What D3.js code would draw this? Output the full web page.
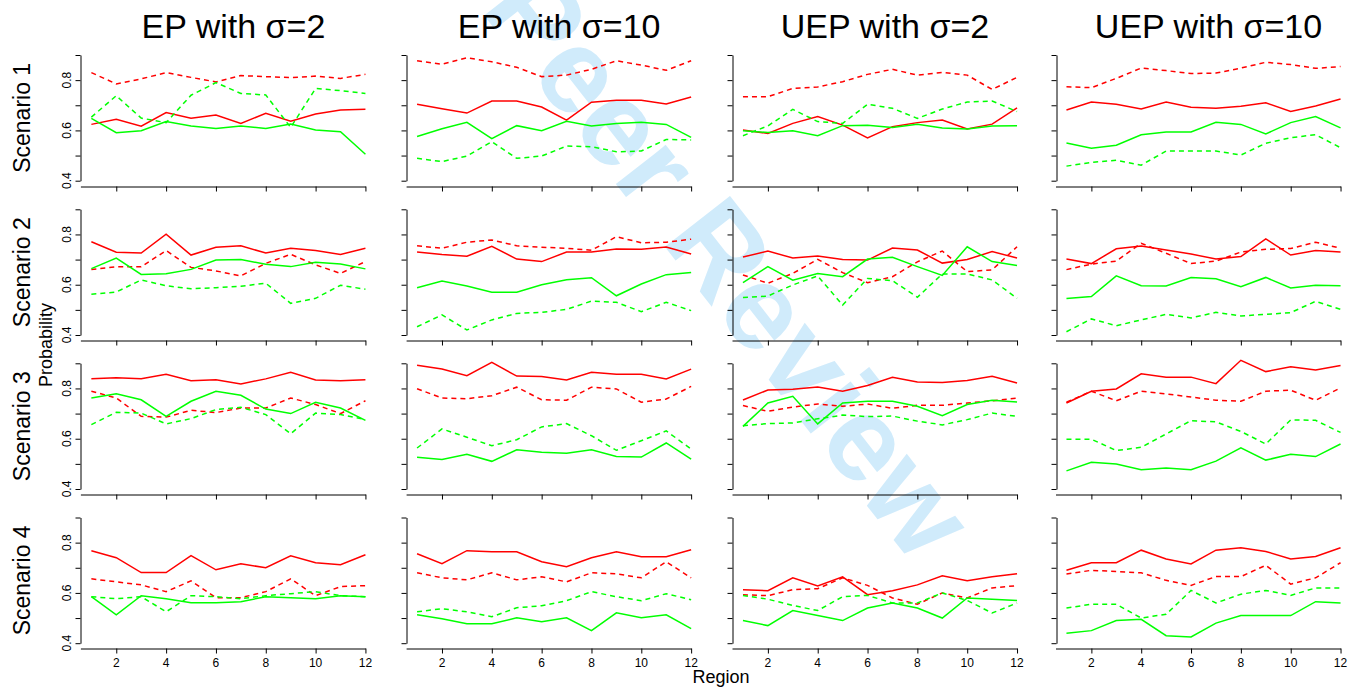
<!DOCTYPE html>
<html><head><meta charset="utf-8">
<script src="https://cdn.jsdelivr.net/npm/d3@7"></script>
<style>body{margin:0;background:#fff}svg{display:block}text{font-family:"Liberation Sans",Arial,sans-serif}</style>
</head><body>
<svg id="c" width="1370" height="688"></svg>
<script>
const columns = ["EP with σ=2", "EP with σ=10", "UEP with σ=2", "UEP with σ=10"];
const scenarios = ["Scenario 1", "Scenario 2", "Scenario 3", "Scenario 4"];
const regions = [1,2,3,4,5,6,7,8,9,10,11,12];
const xTicks = [2,4,6,8,10,12];
const yTicks = [0.4,0.5,0.6,0.7,0.8,0.9];
const yTickLabels = ["0.4","","0.6","","0.8",""];
const xLabel = "Region", yLabel = "Probability";

// panels in order: scenario 1 (4 columns), scenario 2, ...
const redSolid = [
 [0.624,0.644,0.617,0.671,0.648,0.661,0.628,0.668,0.637,0.665,0.681,0.684],
 [0.704,0.686,0.669,0.717,0.717,0.693,0.641,0.712,0.720,0.720,0.705,0.733],
 [0.602,0.588,0.628,0.655,0.621,0.570,0.615,0.631,0.641,0.606,0.625,0.690],
 [0.681,0.713,0.704,0.685,0.713,0.692,0.688,0.696,0.710,0.675,0.697,0.725],
 [0.771,0.729,0.726,0.801,0.718,0.749,0.755,0.726,0.745,0.736,0.720,0.745],
 [0.730,0.720,0.713,0.753,0.702,0.692,0.730,0.730,0.742,0.741,0.750,0.722],
 [0.710,0.734,0.706,0.714,0.700,0.698,0.746,0.738,0.686,0.700,0.732,0.706],
 [0.702,0.684,0.743,0.754,0.738,0.722,0.702,0.712,0.782,0.718,0.736,0.730],
 [0.839,0.843,0.839,0.856,0.831,0.835,0.818,0.838,0.864,0.834,0.831,0.835],
 [0.892,0.877,0.851,0.904,0.849,0.847,0.834,0.864,0.856,0.856,0.838,0.877],
 [0.754,0.794,0.797,0.806,0.789,0.812,0.844,0.826,0.824,0.832,0.848,0.822],
 [0.742,0.789,0.798,0.858,0.845,0.845,0.819,0.912,0.867,0.886,0.873,0.891],
 [0.768,0.740,0.681,0.681,0.748,0.692,0.716,0.700,0.748,0.720,0.712,0.752],
 [0.756,0.716,0.768,0.764,0.764,0.724,0.704,0.740,0.764,0.744,0.744,0.772],
 [0.613,0.609,0.660,0.628,0.664,0.593,0.609,0.632,0.668,0.648,0.664,0.676],
 [0.690,0.720,0.720,0.770,0.735,0.715,0.770,0.780,0.765,0.735,0.745,0.780]
];
const redDashed = [
 [0.830,0.785,0.805,0.830,0.811,0.793,0.818,0.814,0.810,0.816,0.807,0.823],
 [0.877,0.863,0.889,0.873,0.851,0.814,0.820,0.843,0.877,0.860,0.839,0.877],
 [0.734,0.734,0.767,0.773,0.794,0.823,0.843,0.820,0.831,0.820,0.763,0.811],
 [0.774,0.770,0.807,0.848,0.838,0.826,0.828,0.848,0.871,0.862,0.847,0.854],
 [0.661,0.671,0.671,0.736,0.669,0.655,0.635,0.685,0.721,0.679,0.645,0.692],
 [0.755,0.745,0.769,0.778,0.755,0.749,0.745,0.737,0.791,0.767,0.769,0.781],
 [0.639,0.606,0.645,0.701,0.648,0.608,0.632,0.691,0.734,0.652,0.659,0.751],
 [0.660,0.682,0.694,0.765,0.725,0.684,0.694,0.730,0.741,0.744,0.769,0.745],
 [0.789,0.762,0.689,0.686,0.713,0.704,0.722,0.722,0.762,0.736,0.700,0.751],
 [0.799,0.762,0.759,0.771,0.805,0.755,0.753,0.805,0.798,0.745,0.758,0.808],
 [0.732,0.709,0.726,0.738,0.729,0.738,0.721,0.733,0.733,0.742,0.751,0.762],
 [0.745,0.789,0.751,0.789,0.778,0.766,0.753,0.749,0.789,0.793,0.753,0.802],
 [0.656,0.644,0.632,0.605,0.648,0.581,0.581,0.605,0.656,0.589,0.625,0.629],
 [0.680,0.660,0.652,0.680,0.652,0.664,0.644,0.680,0.676,0.660,0.724,0.660],
 [0.593,0.589,0.613,0.617,0.660,0.630,0.580,0.555,0.600,0.580,0.620,0.629],
 [0.675,0.690,0.685,0.680,0.650,0.630,0.665,0.665,0.710,0.635,0.660,0.720]
];
const greenSolid = [
 [0.648,0.591,0.599,0.635,0.618,0.608,0.618,0.608,0.625,0.602,0.595,0.505],
 [0.576,0.607,0.632,0.567,0.619,0.599,0.636,0.618,0.628,0.632,0.624,0.572],
 [0.599,0.592,0.599,0.579,0.619,0.621,0.612,0.625,0.610,0.606,0.618,0.619],
 [0.550,0.529,0.541,0.583,0.594,0.594,0.632,0.624,0.586,0.631,0.655,0.610],
 [0.664,0.706,0.641,0.644,0.661,0.698,0.700,0.681,0.672,0.689,0.682,0.663],
 [0.588,0.615,0.595,0.570,0.570,0.600,0.620,0.628,0.556,0.603,0.640,0.649],
 [0.608,0.672,0.618,0.645,0.632,0.702,0.709,0.672,0.637,0.751,0.692,0.676],
 [0.545,0.553,0.635,0.596,0.595,0.629,0.624,0.592,0.629,0.587,0.598,0.596],
 [0.762,0.779,0.755,0.689,0.749,0.789,0.773,0.718,0.700,0.745,0.722,0.673],
 [0.526,0.517,0.538,0.510,0.556,0.546,0.542,0.556,0.529,0.527,0.583,0.519],
 [0.649,0.742,0.769,0.659,0.742,0.749,0.749,0.729,0.692,0.736,0.753,0.746],
 [0.472,0.506,0.499,0.477,0.484,0.477,0.511,0.564,0.515,0.538,0.529,0.579],
 [0.585,0.513,0.589,0.577,0.561,0.561,0.565,0.585,0.581,0.577,0.589,0.585],
 [0.513,0.497,0.477,0.477,0.501,0.485,0.501,0.450,0.521,0.501,0.513,0.458],
 [0.490,0.470,0.530,0.510,0.490,0.540,0.560,0.540,0.500,0.580,0.575,0.570],
 [0.440,0.450,0.490,0.495,0.430,0.425,0.480,0.510,0.510,0.510,0.565,0.560]
];
const greenDashed = [
 [0.653,0.738,0.649,0.631,0.740,0.790,0.747,0.741,0.612,0.767,0.758,0.747],
 [0.489,0.476,0.498,0.555,0.489,0.498,0.538,0.535,0.515,0.518,0.564,0.562],
 [0.579,0.618,0.684,0.635,0.628,0.704,0.688,0.648,0.685,0.713,0.717,0.675],
 [0.458,0.473,0.481,0.462,0.518,0.518,0.518,0.502,0.549,0.571,0.583,0.531],
 [0.562,0.571,0.619,0.596,0.584,0.588,0.594,0.606,0.526,0.546,0.598,0.582],
 [0.433,0.480,0.420,0.460,0.486,0.490,0.502,0.535,0.530,0.493,0.530,0.497],
 [0.549,0.555,0.599,0.635,0.519,0.625,0.616,0.550,0.643,0.643,0.619,0.546],
 [0.413,0.464,0.437,0.460,0.482,0.468,0.490,0.476,0.482,0.489,0.534,0.502],
 [0.656,0.705,0.702,0.659,0.680,0.716,0.725,0.696,0.620,0.702,0.696,0.676],
 [0.563,0.639,0.606,0.572,0.596,0.647,0.660,0.612,0.554,0.592,0.631,0.559],
 [0.652,0.660,0.663,0.679,0.694,0.688,0.690,0.670,0.655,0.676,0.702,0.689],
 [0.598,0.598,0.553,0.566,0.619,0.672,0.667,0.629,0.579,0.675,0.673,0.625],
 [0.585,0.577,0.585,0.525,0.589,0.585,0.577,0.589,0.597,0.605,0.589,0.585],
 [0.525,0.537,0.525,0.505,0.541,0.549,0.569,0.605,0.585,0.569,0.597,0.573],
 [0.590,0.575,0.550,0.530,0.585,0.590,0.560,0.560,0.600,0.570,0.520,0.560],
 [0.540,0.555,0.555,0.500,0.515,0.610,0.560,0.595,0.610,0.590,0.620,0.620]
];

const svg = d3.select("#c");
// watermark
svg.append("text").attr("transform","translate(730,262) rotate(52)")
  .attr("text-anchor","middle").attr("dominant-baseline","central")
  .attr("font-size",120).attr("font-weight","bold").attr("fill","#d0ebfb")
  .text("Peer Review");

const colLeft = [80.4, 406.1, 732, 1055.5];
const panelW = 296;
const rowTop = [55, 209.3, 363.3, 517.5];
const panelH = 125.7;

const series = [
  {data: redSolid, color: "#ff0000", dash: null},
  {data: redDashed, color: "#ff0000", dash: "5,4"},
  {data: greenSolid, color: "#00ff00", dash: null},
  {data: greenDashed, color: "#00ff00", dash: "5,4"}
];

for (let r = 0; r < 4; r++) {
  for (let c = 0; c < 4; c++) {
    const idx = r*4 + c;
    const x = d3.scaleLinear().domain([0.56, 12.44]).range([colLeft[c], colLeft[c] + panelW]);
    const y = d3.scaleLinear().domain([0.4, 0.9]).range([rowTop[r] + panelH, rowTop[r]]);
    const g = svg.append("g");
    const ya = g.append("g").attr("transform", `translate(${Math.round(x(0.56))+0.5},0)`)
      .call(d3.axisLeft(y).tickValues(yTicks).tickFormat("").tickSize(5).tickSizeOuter(0));
    const xAxisScale = d3.scaleLinear().domain([0.56, 12]).range([x(0.56), x(12)]);
    const xa = g.append("g").attr("transform", `translate(0,${Math.round(y(0.38))+0.5})`)
      .call(d3.axisBottom(xAxisScale).tickValues(xTicks).tickFormat("").tickSize(5).tickSizeOuter(0));
    [ya, xa].forEach(a => { a.selectAll("path,line").attr("stroke","#000").attr("stroke-width",1); });
    if (c === 0) {
      yTicks.forEach((t, i) => {
        if (!yTickLabels[i]) return;
        g.append("text").attr("transform", `translate(${x(0.56)-9},${y(t)}) rotate(-90)`)
          .attr("text-anchor","middle").attr("font-size",12).attr("fill","#000").text(yTickLabels[i]);
      });
      g.append("text").attr("transform", `translate(30,${y(0.65)}) rotate(-90)`)
        .attr("text-anchor","middle").attr("font-size",23).attr("fill","#000").text(scenarios[r]);
    }
    if (r === 3) {
      xTicks.forEach(t => {
        g.append("text").attr("x", x(t)).attr("y", y(0.38) + 19)
          .attr("text-anchor","middle").attr("font-size",12).attr("fill","#000").text(t);
      });
    }
    if (r === 0) {
      g.append("text").attr("x", (x(0.56)+x(12.44))/2 + 5).attr("y", 38)
        .attr("text-anchor","middle").attr("font-size",34).attr("fill","#000").text(columns[c]);
    }
    const line = d3.line().x((d,i) => x(regions[i])).y(d => y(d));
    series.forEach(s => {
      g.append("path").datum(s.data[idx]).attr("d", line)
        .attr("fill","none").attr("stroke", s.color).attr("stroke-width",1.5)
        .attr("stroke-dasharray", s.dash);
    });
  }
}
svg.append("text").attr("x", 721).attr("y", 683).attr("text-anchor","middle")
  .attr("font-size",18).attr("fill","#000").text(xLabel);
svg.append("text").attr("transform","translate(52,345) rotate(-90)").attr("text-anchor","middle")
  .attr("font-size",18).attr("fill","#000").text(yLabel);
</script>
</body></html>
